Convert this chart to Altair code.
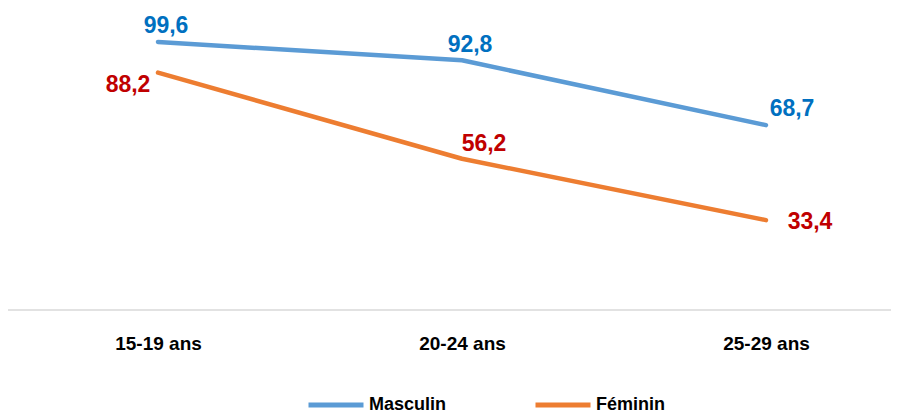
import altair as alt
import pandas as pd

categories = ["15-19 ans", "20-24 ans", "25-29 ans"]
series = ["Masculin", "Féminin"]
masculin = [99.6, 92.8, 68.7]
feminin = [88.2, 56.2, 33.4]

line_colors = ["#5B9BD5", "#ED7D31"]
label_colors = ["#0070C0", "#C00000"]

rows = []
for s, vals in zip(series, [masculin, feminin]):
    for i, (c, v) in enumerate(zip(categories, vals)):
        rows.append({"age": c, "sexe": s, "valeur": v, "idx": i,
                     "label": f"{v:.1f}".replace(".", ",")})
df = pd.DataFrame(rows)

FONT = "Liberation Sans"
W, H = 883, 296

x_enc = alt.X("age:N", sort=categories,
              scale=alt.Scale(type="point", range=[150, 758], padding=0),
              axis=alt.Axis(title=None, domain=False, ticks=False, grid=False,
                            labelAngle=0, labelFont=FONT, labelFontSize=19,
                            labelFontWeight="bold", labelColor="#000000",
                            labelPadding=24))
y_enc = alt.Y("valeur:Q", scale=alt.Scale(domain=[0, 110], nice=False, zero=True),
              axis=None)

base = alt.Chart(df)

baseline = alt.Chart(pd.DataFrame({"z": [0]})).mark_rule(
    color="#D9D9D9", strokeWidth=1.5
).encode(y=alt.Y("z:Q", scale=alt.Scale(domain=[0, 110], nice=False), axis=None),
         x=alt.value(0), x2=alt.value(W))

lines = base.mark_line(strokeWidth=4.5, strokeCap="round", strokeJoin="round").encode(
    x=x_enc, y=y_enc,
    color=alt.Color("sexe:N",
                    scale=alt.Scale(domain=series, range=line_colors),
                    legend=alt.Legend(title=None, orient="none", legendX=298, legendY=361,
                                      direction="horizontal", symbolType="stroke",
                                      symbolStrokeWidth=5, symbolSize=3025,
                                      labelFont=FONT, labelFontSize=18,
                                      labelFontWeight="bold", labelColor="#000000",
                                      labelOffset=3, columnPadding=78)),
    detail="sexe:N",
)

offsets = {
    "Masculin": [(8, -16), (8, -15), (26, -16)],
    "Féminin": [(-30, 12), (22, -15), (44, 2)],
}

texts = []
for s, col in zip(series, label_colors):
    for i in range(len(categories)):
        dx, dy = offsets[s][i]
        t = base.transform_filter(
            (alt.datum.sexe == s) & (alt.datum.idx == i)
        ).mark_text(font=FONT, fontSize=23, fontWeight="bold", color=col,
                    dx=dx, dy=dy, align="center", baseline="middle").encode(
            x=x_enc, y=y_enc, text="label:N")
        texts.append(t)

chart = alt.layer(baseline, lines, *texts).properties(
    width=W, height=H,
    background="#FFFFFF",
    autosize=alt.AutoSizeParams(type="none"),
    padding={"left": 0, "top": 6, "right": 0, "bottom": 104},
).configure_view(strokeWidth=0, stroke="transparent")

chart.save("out.html", embed_options={"renderer": "svg", "actions": False})
